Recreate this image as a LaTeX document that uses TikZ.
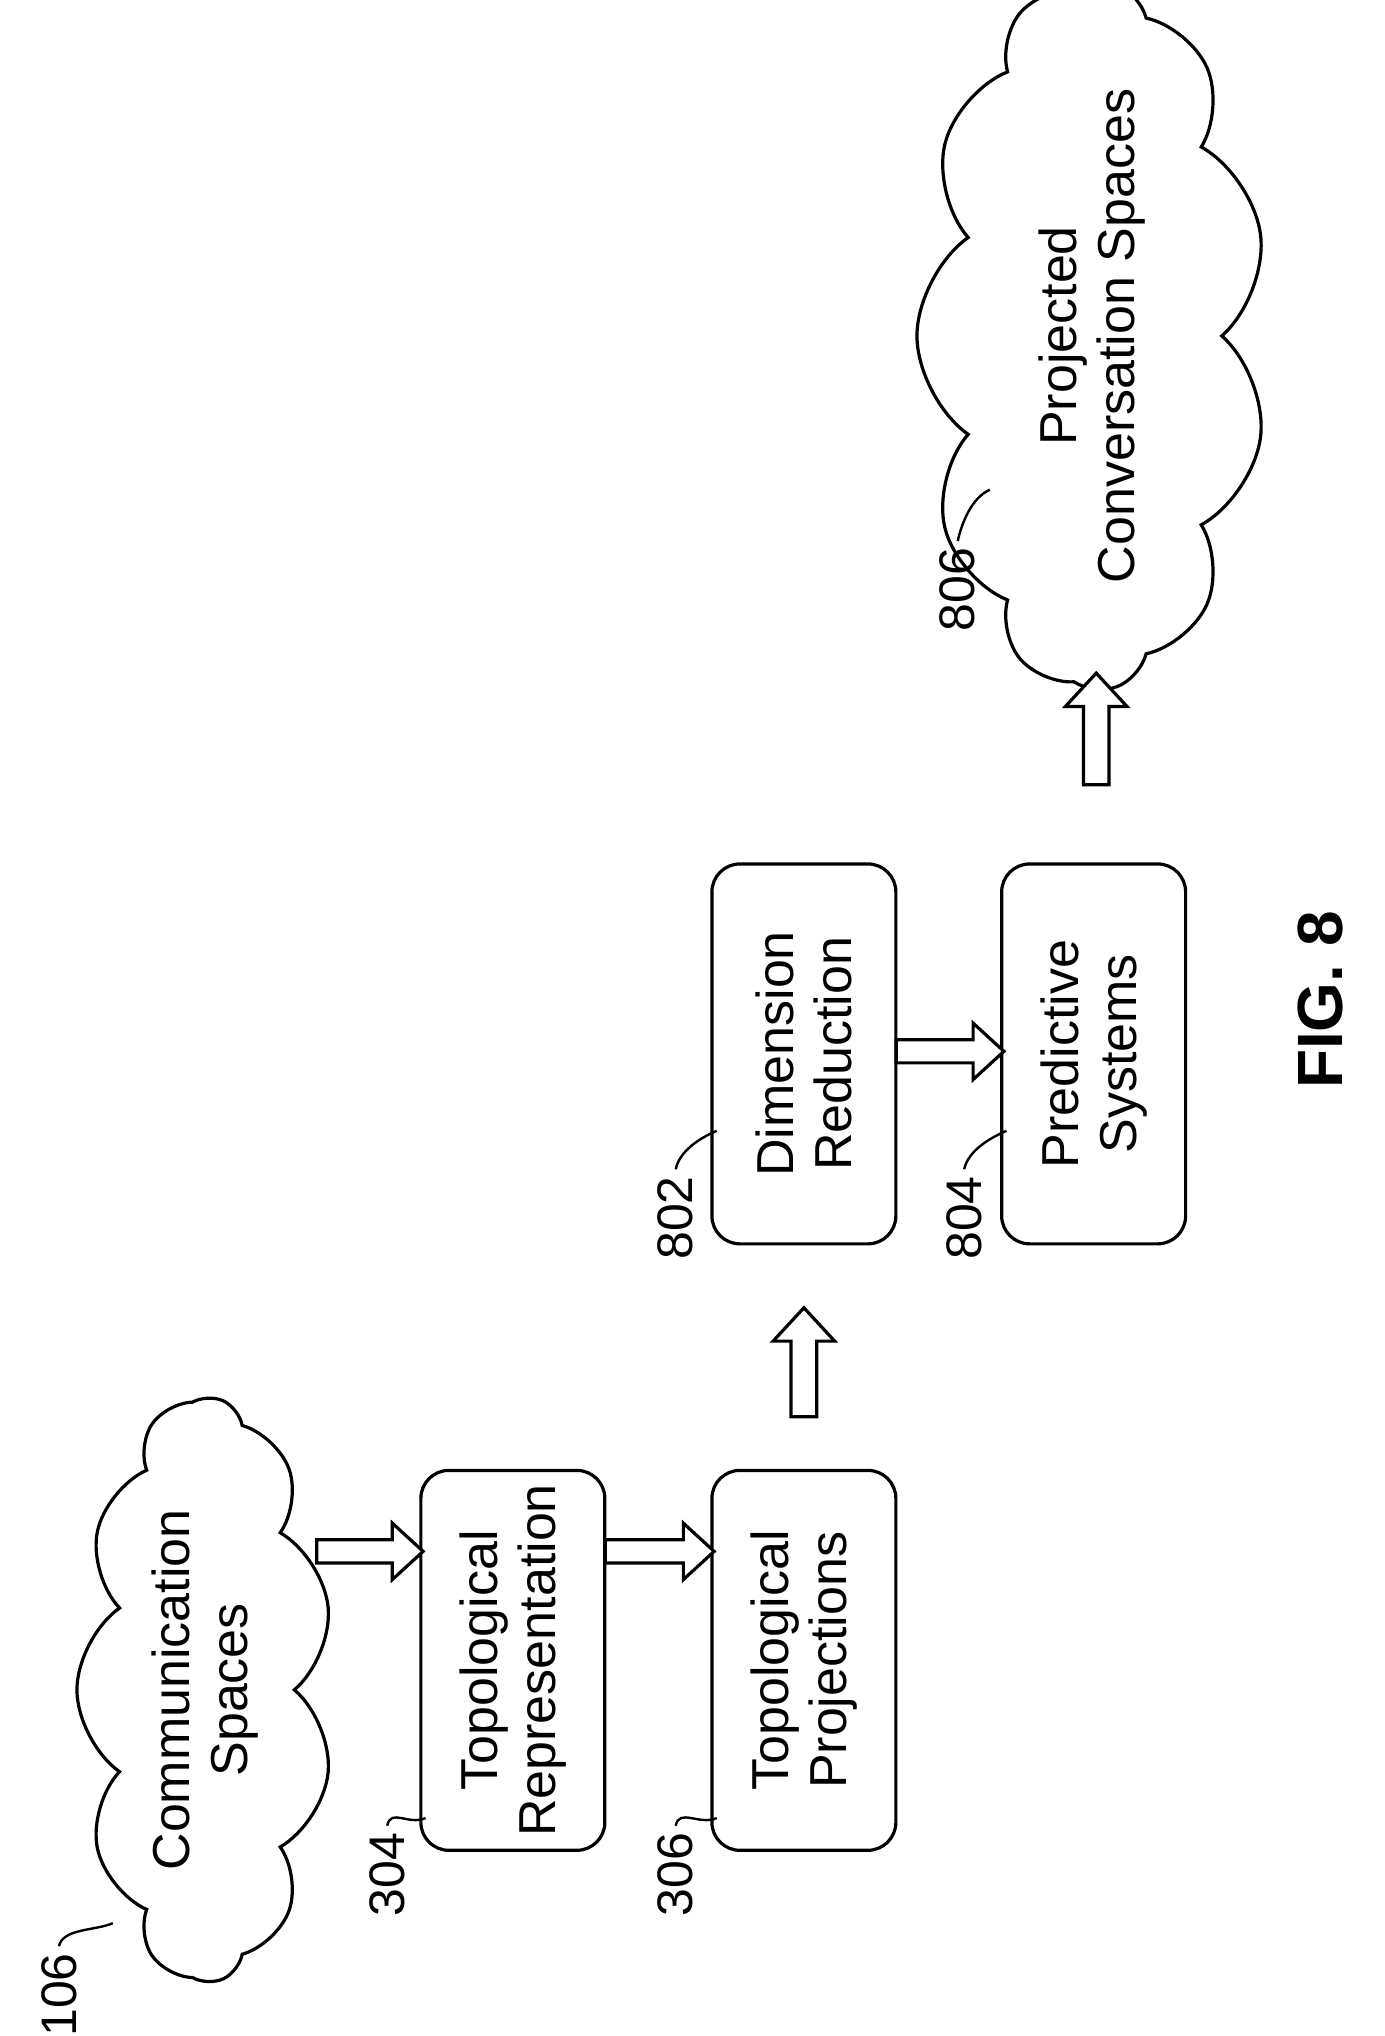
\documentclass[tikz,border=0pt]{standalone}
\usepackage{fontspec}
\setmainfont{Liberation Sans}
\usetikzlibrary{shapes.symbols}
\begin{document}
\begin{tikzpicture}[x=0.6412pt,y=-0.6412pt,
  box/.style={draw,line width=1.6pt,rounded corners=14pt,rotate=90,minimum width=190pt,minimum height=92pt,align=center,font=\fontsize{26}{29}\selectfont},
  cl/.style={draw,line width=1.6pt,cloud,cloud puffs=11,cloud puff arc=110,aspect=2.7,rotate=90,minimum width=292pt,minimum height=110pt,align=center,font=\fontsize{26}{29}\selectfont,inner sep=0pt},
  lab/.style={rotate=90,font=\fontsize{25}{28}\selectfont},
  lead/.style={line width=1.2pt},
  barrow/.style={draw,line width=1.6pt,fill=white}]
\useasboundingbox (0,0) rectangle (1080,1588);
\node[cl] (c106) at (160,1318) {Communication\\Spaces};
\node[box] (b304) at (400,1295) {Topological\\Representation};
\node[box] (b306) at (627,1295) {Topological\\Projections};
\node[box] (b802) at (627,822) {Dimension\\Reduction};
\node[box] (b804) at (853,822) {Predictive\\Systems};
\node[cl,minimum width=312pt] (c806) at (852,262) {Projected\\Conversation Spaces};
\node[lab] (l106) at (46,1556) {106};
\node[lab] (l304) at (302,1462) {304};
\node[lab] (l306) at (527,1462) {306};
\node[lab] (l802) at (527,950) {802};
\node[lab] (l804) at (752,950) {804};
\node[lab] (l806) at (747,460) {806};
\node[rotate=90,font=\bfseries\fontsize{32}{36}\selectfont] (fig) at (1030,780) {FIG. 8};
\coordinate (t106) at (88,1500);
\coordinate (t304) at (332,1418);
\coordinate (t306) at (559,1418);
\coordinate (t802) at (559,882);
\coordinate (t804) at (785,882);
\coordinate (t806) at (772,382);
\foreach \a in {106,304,306,802,804,806}
  \draw[lead] (l\a.east) .. controls +(3,-14) and +(-14,6) .. (t\a);
\newcommand\harr[3]{\draw[barrow] (#1,#3-9) -- (#2-24,#3-9) -- (#2-24,#3-22) -- (#2,#3) -- (#2-24,#3+22) -- (#2-24,#3+9) -- (#1,#3+9) -- cycle;}
\newcommand\varr[3]{\draw[barrow] (#3-10,#1) -- (#3-10,#2+26) -- (#3-24,#2+26) -- (#3,#2) -- (#3+24,#2+26) -- (#3+10,#2+26) -- (#3+10,#1) -- cycle;}
\harr{247}{330}{1210}
\harr{472}{557}{1210}
\varr{1105}{1020}{627}
\harr{699}{783}{820}
\varr{612}{525}{855}
\end{tikzpicture}
\end{document}
